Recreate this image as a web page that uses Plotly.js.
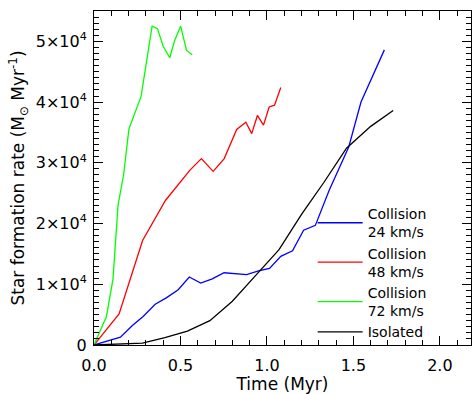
<!DOCTYPE html>
<html><head><meta charset="utf-8">
<script src="https://cdn.plot.ly/plotly-3.0.1.min.js"></script>
<style>body{margin:0;background:#fff}#plot{width:472px;height:394px}</style>
</head><body><div id="plot"></div>
<script>
// Time (Myr) and star formation rate (Msun/Myr) for each run
const t24 = [0, 0.153, 0.222, 0.284, 0.354, 0.42, 0.487, 0.551, 0.617, 0.684, 0.752, 0.883, 0.951, 1.015, 1.08, 1.148, 1.212, 1.28, 1.36, 1.473, 1.544, 1.679];
const sfr24 = [0, 1300, 3200, 4700, 6700, 7800, 9100, 11200, 10200, 10900, 11900, 11600, 12200, 12600, 14600, 15500, 18900, 19700, 25500, 32600, 40000, 48600];
const t48 = [0, 0.145, 0.281, 0.413, 0.555, 0.621, 0.689, 0.753, 0.825, 0.878, 0.912, 0.945, 0.98, 1.013, 1.044, 1.08];
const sfr48 = [0, 5100, 17200, 23800, 28800, 30700, 28600, 30700, 35500, 36700, 34800, 37800, 36200, 39200, 39500, 42400];
const t72 = [0, 0.072, 0.11, 0.139, 0.172, 0.202, 0.272, 0.336, 0.367, 0.40, 0.438, 0.467, 0.501, 0.535, 0.568];
const sfr72 = [0, 4700, 10900, 23000, 28200, 35600, 40900, 52500, 52100, 49200, 47300, 50200, 52500, 48500, 47800];
const tIso = [0, 0.28, 0.41, 0.54, 0.67, 0.80, 0.93, 1.07, 1.20, 1.33, 1.46, 1.60, 1.73];
const sfrIso = [0, 300, 1200, 2300, 4000, 7200, 11300, 15700, 21500, 26800, 32400, 36000, 38600];
const names = ["Collision<br>24 km/s", "Collision<br>48 km/s", "Collision<br>72 km/s", "Isolated"];
const yTickVals = [0, 10000, 20000, 30000, 40000, 50000];
const yTickText = ["0", "1×10<sup>4</sup>", "2×10<sup>4</sup>", "3×10<sup>4</sup>", "4×10<sup>4</sup>", "5×10<sup>4</sup>"];
const xTickVals = [0, 0.5, 1.0, 1.5, 2.0];
const xTickText = ["0.0", "0.5", "1.0", "1.5", "2.0"];

const FONT = "DejaVu Sans";
const series = [[t24, sfr24, "#0000ff"], [t48, sfr48, "#ff0000"], [t72, sfr72, "#00ff00"], [tIso, sfrIso, "#000000"]];
const data = series.map((s, i) => ({
  x: s[0], y: s[1], name: names[i], mode: "lines", type: "scatter",
  line: {color: s[2], width: 1.3}
}));

const layout = {
  width: 472, height: 394, paper_bgcolor: "#fff", plot_bgcolor: "#fff",
  margin: {l: 94, r: 1, t: 11, b: 49},
  font: {family: FONT, color: "#000"},
  showlegend: true,
  legend: {x: 0.58, y: 0.44, xanchor: "left", yanchor: "top", bgcolor: "rgba(0,0,0,0)",
           font: {family: FONT, size: 14, color: "#000"}, tracegroupgap: 0, itemwidth: 45},
  xaxis: {
    showgrid: false, zeroline: false, showline: true, linecolor: "black", linewidth: 1,
    mirror: "allticks", ticks: "inside", tickcolor: "black", tickwidth: 1, ticklen: 9,
    tickfont: {family: FONT, size: 16, color: "#000"},
    range: [0, 2.18], tickvals: xTickVals, ticktext: xTickText, ticklabelstandoff: 6,
    minor: {dtick: 0.1, ticks: "inside", ticklen: 5, tickcolor: "black"},
    title: {text: "Time (Myr)", font: {family: FONT, size: 17, color: "#000"}, standoff: 6}
  },
  yaxis: {
    showgrid: false, zeroline: false, showline: true, linecolor: "black", linewidth: 1,
    mirror: "allticks", ticks: "inside", tickcolor: "black", tickwidth: 1, ticklen: 9,
    tickfont: {family: FONT, size: 16, color: "#000"},
    range: [0, 55000], tickvals: yTickVals, ticktext: yTickText, ticklabelstandoff: 3,
    minor: {dtick: 1000, ticks: "inside", ticklen: 5, tickcolor: "black"},
    title: {text: "Star formation rate (M<sub>⊙</sub> Myr<sup>-1</sup>)", font: {family: FONT, size: 17, color: "#000"}, standoff: 6}
  }
};
Plotly.newPlot("plot", data, layout, {displayModeBar: false});
</script></body></html>
